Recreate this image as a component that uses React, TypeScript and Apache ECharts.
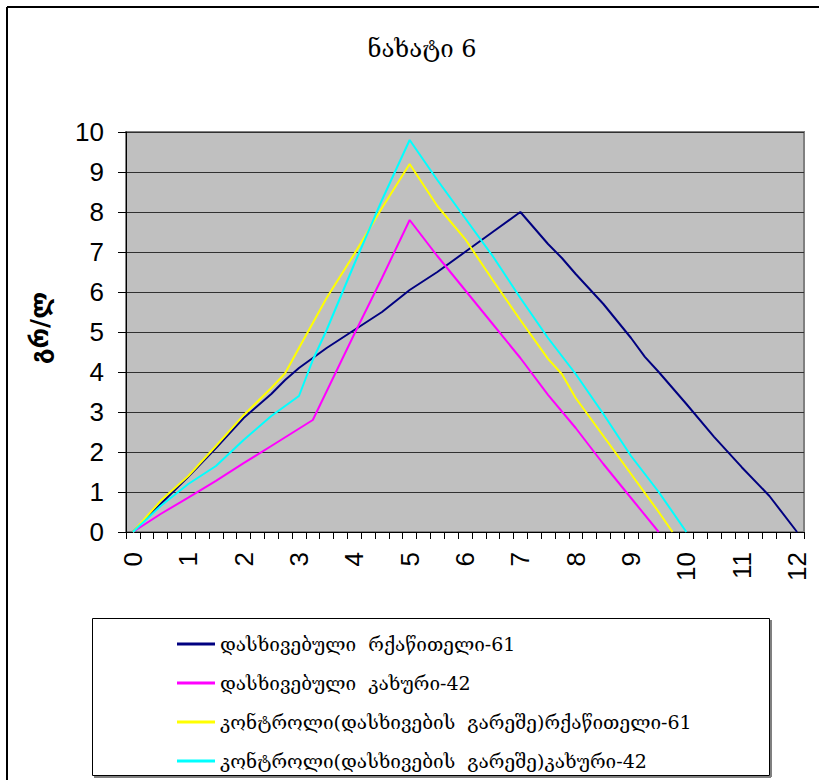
import React, { useEffect, useRef } from "react";
import * as echarts from "echarts";

const titleText = "ნახატი 6";
const yAxisName = "გრ/ლ";

const xCategories = [
  "0", "0.25", "0.5", "0.75", "1", "1.25", "1.5", "1.75", "2", "2.25", "2.5", "2.75",
  "3", "3.25", "3.5", "3.75", "4", "4.25", "4.5", "4.75", "5", "5.25", "5.5", "5.75",
  "6", "6.25", "6.5", "6.75", "7", "7.25", "7.5", "7.75", "8", "8.25", "8.5", "8.75",
  "9", "9.25", "9.5", "9.75", "10", "10.25", "10.5", "10.75", "11", "11.25", "11.5", "11.75", "12",
];

const seriesNames = [
  "დასხივებული  რქაწითელი-61",
  "დასხივებული  კახური-42",
  "კონტროლი(დასხივების  გარეშე)რქაწითელი-61",
  "კონტროლი(დასხივების  გარეშე)კახური-42",
];

const seriesColors = ["#000080", "#FF00FF", "#FFFF00", "#00FFFF"];

const rkatsiteliIrradiated = [
  [0, 0], [0.5, 0.7], [1, 1.38], [1.5, 2.1], [2, 2.85], [2.5, 3.45], [2.75, 3.8],
  [3, 4.1], [3.5, 4.6], [4, 5.05], [4.5, 5.5], [5, 6.05], [5.5, 6.5], [6, 7.0],
  [6.5, 7.5], [7, 8.0], [7.5, 7.2], [7.75, 6.85], [8, 6.45], [8.5, 5.7], [9, 4.85],
  [9.25, 4.38], [9.5, 4.0], [10, 3.2], [10.5, 2.38], [11, 1.62], [11.5, 0.9], [12, 0],
];

const kakhuriIrradiated = [
  [0, 0], [0.5, 0.45], [1, 0.86], [1.5, 1.28], [2, 1.72], [2.5, 2.15], [3.25, 2.8],
  [4, 4.95], [4.5, 6.35], [5, 7.8], [5.5, 6.9], [6, 6.05], [6.5, 5.2], [7, 4.35],
  [7.5, 3.43], [8, 2.6], [8.5, 1.7], [9, 0.85], [9.5, 0],
];

const rkatsiteliControl = [
  [0, 0], [0.5, 0.78], [1, 1.4], [1.5, 2.15], [2, 2.92], [2.5, 3.6], [2.75, 3.97],
  [3, 4.6], [3.5, 5.85], [4, 6.95], [4.5, 8.1], [5, 9.2], [5.5, 8.15], [6, 7.33],
  [6.5, 6.3], [7, 5.3], [7.5, 4.33], [7.75, 3.95], [8, 3.35], [8.5, 2.4], [9, 1.45],
  [9.5, 0.5], [9.75, 0],
];

const kakhuriControl = [
  [0, 0], [0.5, 0.65], [1, 1.2], [1.5, 1.65], [2, 2.3], [2.5, 2.9], [3, 3.4],
  [3.25, 4.3], [3.5, 5.05], [4, 6.7], [4.5, 8.3], [5, 9.8], [5.5, 8.8], [6, 7.85],
  [6.5, 6.9], [7, 5.85], [7.5, 4.85], [8, 3.95], [8.5, 2.95], [9, 1.9], [9.5, 1.0],
  [10, 0],
];

const seriesData = [rkatsiteliIrradiated, kakhuriIrradiated, rkatsiteliControl, kakhuriControl];

const georgianFont = "'DejaVu Serif', serif";
const numberFont = "Arial, 'Liberation Sans', sans-serif";

export default function App() {
  const ref = useRef<HTMLDivElement>(null);

  useEffect(() => {
    if (!ref.current) return;
    const chart = echarts.init(ref.current, null, { renderer: "svg" });
    chart.setOption({
      animation: false,
      backgroundColor: "#ffffff",
      title: {
        text: titleText,
        left: 417,
        top: 32,
        textAlign: "center",
        textStyle: {
          fontFamily: georgianFont,
          fontSize: 24,
          fontWeight: "normal",
          color: "#000",
        },
      },
      grid: {
        left: 126,
        top: 132,
        width: 678,
        height: 400,
        show: true,
        backgroundColor: "#C0C0C0",
        borderColor: "#808080",
        borderWidth: 2,
      },
      legend: {
        orient: "vertical",
        left: 172,
        top: 629,
        itemWidth: 38,
        itemHeight: 3,
        itemGap: 19,
        icon: "rect",
        textStyle: {
          fontFamily: georgianFont,
          fontSize: 19,
          lineHeight: 20,
          color: "#000",
        },
        data: seriesNames,
      },
      xAxis: [
        {
          type: "category",
          data: xCategories,
          boundaryGap: true,
          axisLine: { show: true, onZero: false, lineStyle: { color: "#000", width: 1 } },
          axisTick: { show: true, interval: 0, length: 7, lineStyle: { color: "#000" } },
          axisLabel: {
            interval: 3,
            rotate: 90,
            margin: 20,
            fontFamily: numberFont,
            fontSize: 26,
            color: "#000",
          },
          splitLine: { show: false },
        },
        {
          type: "value",
          show: false,
          min: -0.125,
          max: 12.125,
        },
      ],
      yAxis: {
        type: "value",
        min: 0,
        max: 10,
        interval: 1,
        axisLine: { show: true, onZero: false, lineStyle: { color: "#000", width: 1 } },
        axisTick: { show: true, length: 8, lineStyle: { color: "#000" } },
        axisLabel: {
          margin: 22,
          fontFamily: numberFont,
          fontSize: 26,
          color: "#000",
        },
        splitLine: { show: true, lineStyle: { color: "#303030", width: 1 } },
      },
      series: seriesNames.map((name, i) => ({
        name,
        type: "line",
        xAxisIndex: 1,
        data: seriesData[i],
        symbol: "none",
        lineStyle: { color: seriesColors[i], width: 2 },
        itemStyle: { color: seriesColors[i] },
      })),
      graphic: [
        {
          type: "line",
          shape: { x1: 7, y1: 7, x2: 819, y2: 7 },
          style: { stroke: "#000", lineWidth: 2 },
        },
        {
          type: "line",
          shape: { x1: 7, y1: 7, x2: 7, y2: 780 },
          style: { stroke: "#000", lineWidth: 2 },
        },
        {
          type: "text",
          x: 39,
          y: 328,
          rotation: Math.PI / 2,
          style: {
            text: yAxisName,
            align: "center",
            verticalAlign: "middle",
            font: "bold 25px 'DejaVu Sans', sans-serif",
            fill: "#000",
          },
        },
        {
          type: "rect",
          shape: { x: 92.5, y: 618.5, width: 677, height: 157 },
          style: { fill: "none", stroke: "#000", lineWidth: 1 },
        },
        {
          type: "line",
          shape: { x1: 771, y1: 620, x2: 771, y2: 777 },
          style: { stroke: "#808080", lineWidth: 2 },
        },
        {
          type: "line",
          shape: { x1: 94, y1: 777, x2: 771, y2: 777 },
          style: { stroke: "#808080", lineWidth: 2 },
        },
      ],
    });
    return () => chart.dispose();
  }, []);

  return (
    <div
      ref={ref}
      style={{ position: "fixed", left: 0, top: 0, width: 819, height: 780 }}
    />
  );
}
